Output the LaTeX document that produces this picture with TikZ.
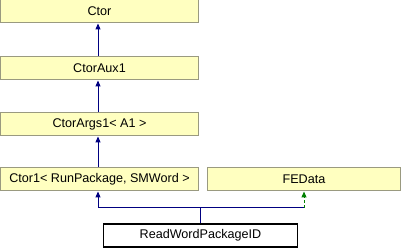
\documentclass[tikz,border=0pt]{standalone}
\usepackage{fontspec}
\setmainfont{Liberation Sans}
\usetikzlibrary{arrows.meta}
\definecolor{classfill}{HTML}{FFFFC0}
\definecolor{classline}{HTML}{9A9A80}
\definecolor{pubedge}{HTML}{000080}
\definecolor{protedge}{HTML}{008000}

\begin{document}
\begin{tikzpicture}[x=1pt, y=1pt,
    every node/.style = {font=\fontsize{12.6}{14}\selectfont},
    cls/.style = {draw=classline, fill=classfill, line width=1pt, minimum height=23pt, inner sep=0pt},
    self/.style = {draw=black, fill=white, line width=1.2pt, minimum height=23pt, inner sep=0pt},
    pub/.style = {draw=pubedge, line width=1pt},
    prot/.style = {draw=protedge, line width=1pt, dash pattern=on 3pt off 2pt},
    tip/.style = {-{Triangle[length=6pt, width=5pt]}}]
            \useasboundingbox (0,0) rectangle (402,248);
            \node[cls, minimum width=198pt] (Ctor) at (99.5,236.5) {Ctor};
            \node[cls, minimum width=198pt] (CtorAux) at (99.5,179.5) {CtorAux1};
            \node[cls, minimum width=198pt] (CtorArgs) at (99.5,123.5) {CtorArgs1<\ A1\ >};
            \node[cls, minimum width=198pt] (CtorOne) at (99.5,68.5) {Ctor1<\ RunPackage,\ SMWord\ >};
            \node[cls, minimum width=193pt] (FEData) at (304,68.5) {FEData};
            \node[self, minimum width=194pt] (ReadWord) at (200.5,12.5) {ReadWordPackageID};
            % base class chain
            \draw[pub, tip] (CtorAux.north -| 98,0) -- (Ctor.south -| 98,0);
            \draw[pub, tip] (CtorArgs.north -| 98,0) -- (CtorAux.south -| 98,0);
            \draw[pub, tip] (CtorOne.north -| 98,0) -- (CtorArgs.south -| 98,0);
            % ReadWordPackageID derives from both
            \coordinate (split) at (ReadWord.north |- 0,40);
            \coordinate (left) at (98,40);
            \coordinate (right) at (FEData.south |- 0,40);
            \draw[pub] (ReadWord.north) -- (split);
            \draw[pub, tip] (split) -- (left) -- (CtorOne.south -| left);
            \draw[pub] (split) -- (right);
            \draw[prot, tip] (right) -- (FEData.south);
\end{tikzpicture}
\end{document}
